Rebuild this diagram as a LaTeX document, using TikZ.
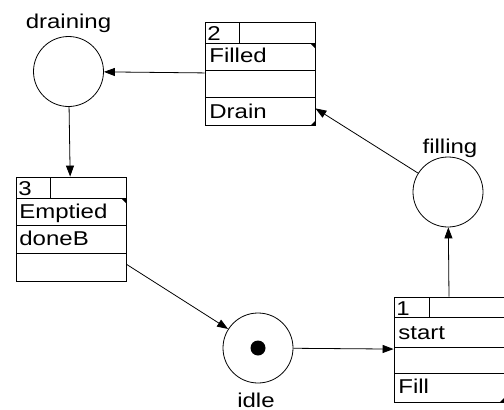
\documentclass[tikz,border=0pt]{standalone}
\usepackage{fontspec}
\setmainfont[FakeStretch=1.2]{Liberation Sans}
\usetikzlibrary{arrows.meta}
\begin{document}
\begin{tikzpicture}[x=1pt,y=-1pt,line width=0.8pt,
  place/.style={draw, circle, minimum size=70pt, inner sep=0pt},
  trans/.style={draw, rectangle, minimum width=110pt, minimum height=103pt, inner sep=0pt},
  txt/.style={font=\fontsize{20}{24}\selectfont, inner sep=0pt, anchor=base west},
  plabel/.style={font=\fontsize{20}{24}\selectfont, inner sep=0pt, anchor=base},
  flow/.style={-{Triangle[length=11pt,width=8pt]}},
  corner/.style={fill=black, draw=none}]
\useasboundingbox (0,0) rectangle (504,410);
\fill[white] (0,0) rectangle (504,410);

% places
\node[place] (draining) at (68.5,71.5) {};
\node[place] (filling) at (448,192) {};
\node[place] (idle) at (258,348) {};
\fill (idle.center) circle (7.5);
\node[plabel] (lbdraining) at (68.5,28) {draining};
\node[plabel] (lbfilling) at (450,153) {filling};
\node[plabel] (lbidle) at (256,407) {idle};

% transition 2
\node[trans] (t2) at (260,73.5) {};
\begin{scope}[shift={(205,22)}]
  \draw (0,21) -- (110,21) (0,48) -- (110,48) (0,75) -- (110,75) (34,0) -- (34,21);
  \node[txt] (n2) at (2,18) {2};
  \node[txt] (r2a) at (4,40) {Filled};
  \node[txt] (r2c) at (4,96) {Drain};
  \fill[corner] (110,21) -- (105,21) -- (110,26) -- cycle;
  \fill[corner] (110,103) -- (106,103) -- (110,99) -- cycle;
\end{scope}

% transition 3
\node[trans, minimum height=104pt] (t3) at (71,229) {};
\begin{scope}[shift={(16,177)}]
  \draw (0,21) -- (110,21) (0,48) -- (110,48) (0,76) -- (110,76) (34,0) -- (34,21);
  \node[txt] (n3) at (2,18) {3};
  \node[txt] (r3a) at (3,41) {Emptied};
  \node[txt] (r3b) at (3,68) {doneB};
  \fill[corner] (110,21) -- (105,21) -- (110,26) -- cycle;
\end{scope}

% transition 1
\node[trans, minimum width=111pt, minimum height=105pt] (t1) at (449.5,349.5) {};
\begin{scope}[shift={(394,297)}]
  \draw (0,20) -- (111,20) (0,50) -- (111,50) (0,76) -- (111,76) (35,0) -- (35,20);
  \node[txt] (n1) at (2,18) {1};
  \node[txt] (r1a) at (4,42) {start};
  \node[txt] (r1c) at (4,96) {Fill};
  \fill[corner] (111,105) -- (106,105) -- (111,100) -- cycle;
\end{scope}

% arcs
\draw[flow] (t2) -- (draining);
\draw[flow] (draining) -- (t3);
\draw[flow] (t3) -- (idle);
\draw[flow] (idle) -- (t1);
\draw[flow] (t1) -- (filling);
\draw[flow] (filling) -- (t2);
\end{tikzpicture}
\end{document}
